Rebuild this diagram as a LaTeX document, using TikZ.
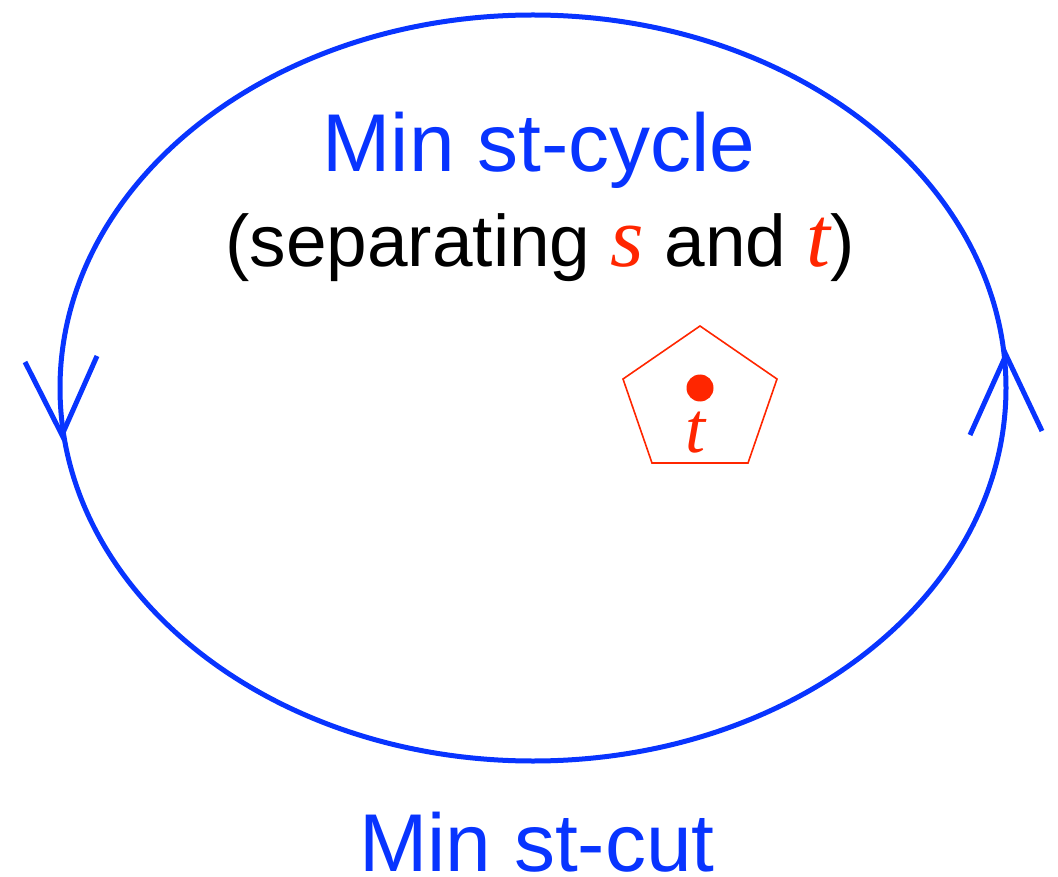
\documentclass[tikz,border=0pt]{standalone}
\usepackage{fontspec}
\setmainfont{Liberation Sans}
\newfontfamily\serifit{Liberation Serif}[ItalicFont={* Italic}]
\definecolor{cycblue}{RGB}{8,52,255}
\definecolor{tred}{RGB}{255,38,0}
\tikzset{
  cycle line/.style={draw=cycblue, line width=5pt},
  tip line/.style={draw=cycblue, line width=5pt, line cap=butt, line join=miter},
  bigtext/.style={inner sep=0pt, anchor=base, text=cycblue, font=\fontsize{82}{90}\selectfont},
  subtext/.style={inner sep=0pt, anchor=base, text=black, font=\fontsize{73}{80}\selectfont},
  pent/.style={draw=tred, line width=1.6pt, line join=miter},
}
\newcommand{\redit}[1]{{\color{tred}\serifit\itshape\fontsize{86}{90}\selectfont #1}}
\begin{document}
\begin{tikzpicture}[x=1pt,y=-1pt]
\useasboundingbox (0,0) rectangle (1058,877);
% cycle
\draw[cycle line] (533,388) ellipse [x radius=473pt, y radius=373pt];
% arrowheads
\coordinate (ltip) at (62,435);
\coordinate (la) at (25,362);
\coordinate (lb) at (97,356);
\draw[tip line] (la) -- (ltip) -- (lb);
\coordinate (rtip) at (1006,355);
\coordinate (ra) at (970,435);
\coordinate (rb) at (1042,431);
\draw[tip line] (ra) -- (rtip) -- (rb);
% texts
\node[bigtext] (title) at (539,172) {Min st-cycle};
\node[subtext] (subtitle) at (540,267) {(separating \redit{s} and \redit{t})};
\node[bigtext] (cut) at (537,871) {Min st-cut};
% pentagon with t
\draw[pent] (700,326) -- (777,379) -- (748,463) -- (652,463) -- (623,379) -- cycle;
\fill[tred] (700,388) circle [radius=13.5pt];
\node[inner sep=0pt, anchor=base, text=tred, font={\serifit\itshape\fontsize{72}{80}\selectfont}] (tlabel) at (695,452) {t};
\end{tikzpicture}
\end{document}
